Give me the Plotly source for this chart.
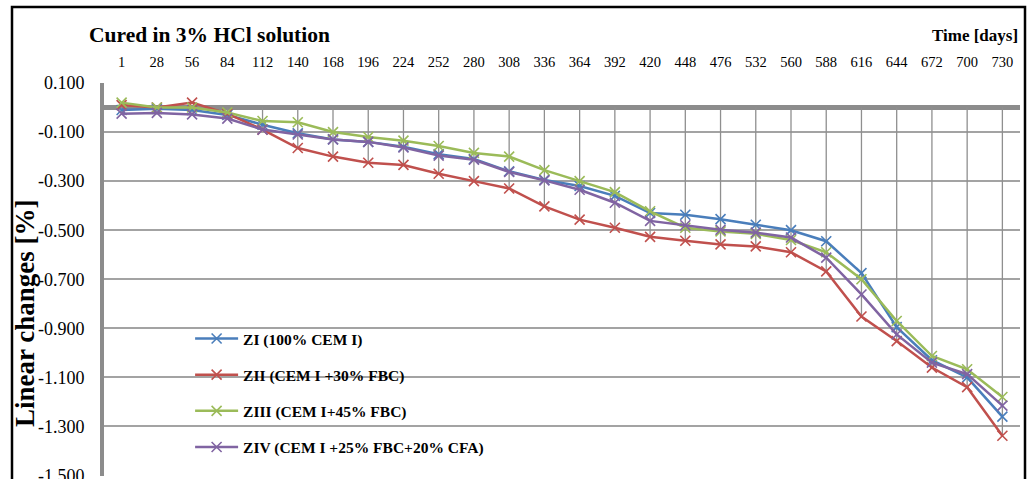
import numpy as np
import plotly.graph_objects as go

# Curing time (days) shown as categories along the top axis
days = ["1", "28", "56", "84", "112", "140", "168", "196", "224", "252", "280", "308", "336",
        "364", "392", "420", "448", "476", "532", "560", "588", "616", "644", "672", "700", "730"]

# Linear changes [%] per mix
zi = [-0.010, -0.005, -0.010, -0.030, -0.070, -0.105, -0.130, -0.140, -0.160, -0.190, -0.210, -0.260, -0.295,
      -0.320, -0.360, -0.430, -0.437, -0.455, -0.478, -0.500, -0.545, -0.675, -0.895, -1.030, -1.100, -1.260]
zii = [0.010, 0.000, 0.020, -0.025, -0.090, -0.165, -0.200, -0.225, -0.234, -0.270, -0.300, -0.330, -0.403,
       -0.457, -0.490, -0.527, -0.543, -0.558, -0.566, -0.590, -0.668, -0.852, -0.952, -1.060, -1.140, -1.338]
ziii = [0.020, 0.000, 0.000, -0.020, -0.055, -0.060, -0.100, -0.120, -0.135, -0.157, -0.185, -0.200, -0.255,
        -0.300, -0.345, -0.423, -0.490, -0.505, -0.515, -0.540, -0.590, -0.700, -0.870, -1.013, -1.067, -1.180]
ziv = [-0.025, -0.022, -0.028, -0.045, -0.090, -0.110, -0.130, -0.140, -0.163, -0.196, -0.213, -0.263, -0.297,
       -0.335, -0.388, -0.462, -0.480, -0.498, -0.510, -0.530, -0.612, -0.762, -0.925, -1.040, -1.087, -1.215]

series_names = ["ZI (100% CEM I)", "ZII (CEM I +30% FBC)", "ZIII (CEM I+45% FBC)",
                "ZIV (CEM I +25% FBC+20% CFA)"]
series_colors = ["#4A7EBB", "#C0504D", "#9BBB59", "#8064A2"]

y_tick_values = [0.1, -0.1, -0.3, -0.5, -0.7, -0.9, -1.1, -1.3, -1.5]
y_tick_labels = ["0.100", "-0.100", "-0.300", "-0.500", "-0.700", "-0.900", "-1.100", "-1.300", "-1.500"]

SERIF = "Liberation Serif"

fig = go.Figure()

# Drop lines from the zero axis down to the lowest value of each day
all_series = np.array([zi, zii, ziii, ziv])
lowest = all_series.min(axis=0)
drop_x, drop_y = [], []
for d, v in zip(days, lowest):
    drop_x += [d, d, None]
    drop_y += [0, float(v), None]
fig.add_trace(go.Scatter(x=drop_x, y=drop_y, mode="lines",
                         line=dict(color="#8f8f8f", width=1.3),
                         showlegend=False, hoverinfo="skip"))

for i, (name, vals, col) in enumerate(zip(series_names, [zi, zii, ziii, ziv], series_colors)):
    fig.add_trace(go.Scatter(
        x=days, y=vals, name=name, mode="lines+markers",
        legendgroup=f"g{i}",
        line=dict(color=col, width=2.5),
        marker=dict(symbol="x-thin", size=10, line=dict(color=col, width=1.6)),
    ))

fig.update_layout(
    width=1033, height=479,
    margin=dict(l=104, r=13, t=83, b=3, autoexpand=False),
    paper_bgcolor="white", plot_bgcolor="white",
    font=dict(family=SERIF, color="black"),
    xaxis=dict(
        type="category", side="top", range=[-0.5, 25.5], automargin=False,
        showgrid=False, zeroline=False, showline=False,
        ticks="", ticklabelstandoff=12,
        tickfont=dict(family=SERIF, size=14.5, color="black"),
    ),
    yaxis=dict(
        range=[-1.502, 0.1], tickvals=y_tick_values, ticktext=y_tick_labels,
        automargin=False,
        showgrid=True, gridcolor="#a3a3a3", gridwidth=2,
        zeroline=True, zerolinecolor="#8c8c8c", zerolinewidth=5,
        showline=True, linecolor="#8c8c8c", linewidth=4,
        ticks="", ticklabelstandoff=12, ticklabeloverflow="allow",
        tickfont=dict(family=SERIF, size=18, color="black"),
    ),
    legend=dict(
        x=0.094, y=0.392, xanchor="left", yanchor="top",
        bgcolor="rgba(0,0,0,0)", borderwidth=0,
        tracegroupgap=13, itemwidth=43,
        font=dict(family=SERIF, size=15.5, color="black", weight="bold"),
    ),
    showlegend=True,
)

fig.add_annotation(text="Cured in 3% HCl solution", xref="paper", yref="paper",
                   x=(87 - 104) / 916, y=(476 - 35) / 393, xanchor="left", yanchor="middle",
                   showarrow=False, font=dict(family=SERIF, size=21.5, weight="bold"))
fig.add_annotation(text="Time [days]", xref="paper", yref="paper",
                   x=(1020 - 104) / 916, y=(476 - 35) / 393, xanchor="right", yanchor="middle",
                   showarrow=False, font=dict(family=SERIF, size=17, weight="bold"))
fig.add_annotation(text="Linear changes [%]", xref="paper", yref="paper",
                   x=(25 - 104) / 916, y=(476 - 313) / 393, xanchor="center", yanchor="middle",
                   textangle=-90, showarrow=False, font=dict(family=SERIF, size=27, weight="bold"))

# Outer frame around the whole chart
fig.add_shape(type="rect", xref="paper", yref="paper",
              x0=(12 - 104) / 916, x1=(1025 - 104) / 916,
              y0=-0.05, y1=(476 - 7) / 393,
              line=dict(color="black", width=2.5), layer="above")

fig.write_html("out.html")
